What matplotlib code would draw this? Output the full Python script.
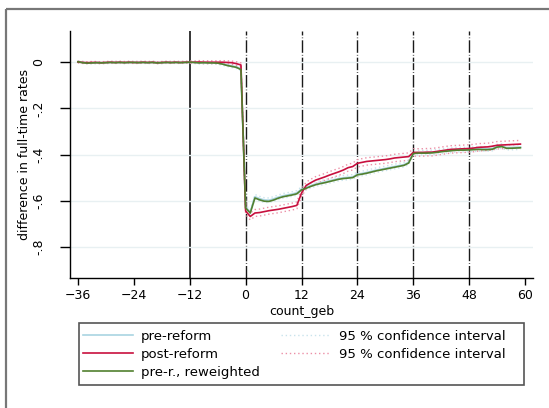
"""
Event-study plot: difference in full-time rates around birth (count_geb)
pre-reform vs post-reform vs reweighted pre-reform cohort, Stata-like look
"""

import matplotlib
matplotlib.use("Agg")
import matplotlib.pyplot as plt
from matplotlib.lines import Line2D
from matplotlib.patches import Rectangle
import numpy as np

# Months relative to birth
months = np.arange(-36, 60)

# pre-reform (light blue)
pre_reform = [
    0.002, -0.001, -0.003, -0.003, -0.002, -0.002, -0.002, -0.001, -0.001, -0.001, -0.002, -0.001,
    -0.001, -0.001, -0.001, -0.002, -0.001, -0.002, -0.002, -0.001, -0.001, -0.001, -0.001, -0.001,
    0.000, -0.001, -0.002, -0.002, -0.002, -0.003, -0.003, -0.007, -0.012, -0.016, -0.020, -0.029,
    -0.626, -0.648, -0.582, -0.590, -0.596, -0.597, -0.591, -0.584, -0.578, -0.574, -0.570, -0.565,
    -0.549, -0.542, -0.534, -0.527, -0.522, -0.518, -0.513, -0.508, -0.503, -0.500, -0.498, -0.496,
    -0.484, -0.481, -0.477, -0.472, -0.467, -0.463, -0.459, -0.455, -0.451, -0.447, -0.443, -0.433,
    -0.393, -0.391, -0.391, -0.391, -0.390, -0.388, -0.385, -0.383, -0.381, -0.379, -0.378, -0.378,
    -0.377, -0.376, -0.375, -0.375, -0.375, -0.373, -0.365, -0.363, -0.369, -0.369, -0.368, -0.367,
]

# post-reform (crimson)
post_reform = [
    0.001, -0.001, -0.002, -0.001, -0.001, -0.002, -0.001, 0.000, -0.001, 0.000, -0.001, 0.000,
    -0.001, -0.001, 0.000, -0.001, 0.000, -0.002, -0.001, 0.000, -0.001, 0.000, -0.001, 0.000,
    0.000, 0.000, 0.001, 0.000, 0.000, 0.000, 0.000, 0.000, -0.001, -0.002, -0.006, -0.012,
    -0.643, -0.667, -0.652, -0.650, -0.646, -0.642, -0.639, -0.636, -0.632, -0.628, -0.624, -0.619,
    -0.566, -0.533, -0.521, -0.510, -0.503, -0.496, -0.488, -0.481, -0.474, -0.466, -0.456, -0.451,
    -0.437, -0.433, -0.429, -0.427, -0.425, -0.423, -0.421, -0.418, -0.414, -0.412, -0.410, -0.408,
    -0.390, -0.390, -0.390, -0.389, -0.389, -0.386, -0.383, -0.380, -0.377, -0.376, -0.375, -0.374,
    -0.373, -0.371, -0.368, -0.367, -0.366, -0.363, -0.359, -0.358, -0.357, -0.356, -0.355, -0.354,
]

# pre-reform, reweighted (green)
pre_reweighted = [
    0.002, -0.002, -0.004, -0.003, -0.002, -0.003, -0.002, -0.001, -0.002, -0.001, -0.002, -0.001,
    -0.001, -0.002, -0.001, -0.002, -0.001, -0.003, -0.002, -0.001, -0.002, -0.001, -0.002, -0.001,
    0.000, -0.001, -0.003, -0.002, -0.003, -0.003, -0.004, -0.008, -0.014, -0.018, -0.022, -0.032,
    -0.630, -0.652, -0.587, -0.595, -0.601, -0.602, -0.596, -0.588, -0.582, -0.578, -0.574, -0.569,
    -0.552, -0.545, -0.537, -0.530, -0.525, -0.521, -0.516, -0.511, -0.506, -0.503, -0.501, -0.499,
    -0.487, -0.484, -0.480, -0.475, -0.470, -0.466, -0.462, -0.458, -0.454, -0.450, -0.446, -0.436,
    -0.395, -0.393, -0.393, -0.393, -0.392, -0.390, -0.387, -0.385, -0.383, -0.381, -0.380, -0.380,
    -0.379, -0.378, -0.377, -0.378, -0.378, -0.376, -0.367, -0.365, -0.372, -0.372, -0.371, -0.370,
]

# 95 % CI half-widths
ci_pre = [
    0.004, 0.004, 0.004, 0.004, 0.004, 0.004, 0.004, 0.004, 0.004, 0.004, 0.004, 0.004,
    0.004, 0.004, 0.004, 0.004, 0.004, 0.004, 0.004, 0.004, 0.004, 0.004, 0.004, 0.004,
    0.004, 0.004, 0.005, 0.005, 0.005, 0.005, 0.006, 0.006, 0.006, 0.007, 0.007, 0.008,
    0.010, 0.010, 0.010, 0.010, 0.010, 0.010, 0.010, 0.010, 0.010, 0.010, 0.010, 0.010,
    0.010, 0.010, 0.010, 0.010, 0.010, 0.010, 0.010, 0.010, 0.010, 0.010, 0.010, 0.010,
    0.010, 0.010, 0.010, 0.010, 0.010, 0.010, 0.010, 0.010, 0.010, 0.010, 0.010, 0.010,
    0.010, 0.010, 0.010, 0.010, 0.010, 0.010, 0.010, 0.010, 0.010, 0.010, 0.010, 0.010,
    0.010, 0.010, 0.010, 0.010, 0.010, 0.010, 0.010, 0.010, 0.010, 0.010, 0.010, 0.010,
]
ci_post = [
    0.004, 0.004, 0.004, 0.004, 0.004, 0.004, 0.004, 0.004, 0.004, 0.004, 0.004, 0.004,
    0.004, 0.004, 0.004, 0.004, 0.004, 0.004, 0.004, 0.004, 0.004, 0.004, 0.004, 0.004,
    0.005, 0.005, 0.006, 0.006, 0.006, 0.006, 0.006, 0.007, 0.007, 0.007, 0.008, 0.009,
    0.015, 0.015, 0.015, 0.015, 0.015, 0.015, 0.015, 0.015, 0.015, 0.015, 0.015, 0.015,
    0.015, 0.015, 0.015, 0.015, 0.015, 0.015, 0.015, 0.015, 0.015, 0.015, 0.015, 0.015,
    0.016, 0.016, 0.016, 0.016, 0.016, 0.016, 0.016, 0.016, 0.016, 0.016, 0.016, 0.016,
    0.016, 0.016, 0.016, 0.016, 0.016, 0.016, 0.016, 0.016, 0.016, 0.016, 0.016, 0.016,
    0.016, 0.016, 0.016, 0.016, 0.016, 0.016, 0.016, 0.016, 0.016, 0.016, 0.016, 0.016,
]

x_ticks = [-36, -24, -12, 0, 12, 24, 36, 48, 60]
y_ticks = [0, -0.2, -0.4, -0.6, -0.8]
y_tick_labels = ["0", "-.2", "-.4", "-.6", "-.8"]
dashed_at = [0, 12, 24, 36, 48]

c_blue = "#a9d4e2"
c_red = "#c8103e"
c_green = "#52802f"
c_blue_ci = "#c9e3ec"
c_red_ci = "#ec8fa6"

W, H = 549, 408
plt.rcParams["font.family"] = "DejaVu Sans"
fig = plt.figure(figsize=(W / 100, H / 100), dpi=100)
ax = fig.add_axes([70 / W, 1 - 278 / H, (533 - 70) / W, (278 - 31) / H])

pre = np.array(pre_reform)
post = np.array(post_reform)
cp = np.array(ci_pre)
cq = np.array(ci_post)

# confidence bands
dots = (0, (1, 2))
ax.plot(months, pre + cp, color=c_blue_ci, lw=1.0, ls=dots)
ax.plot(months, pre - cp, color=c_blue_ci, lw=1.0, ls=dots)
ax.plot(months, post + cq, color=c_red_ci, lw=1.0, ls=dots)
ax.plot(months, post - cq, color=c_red_ci, lw=1.0, ls=dots)

ax.plot(months, pre, color=c_blue, lw=1.3)
ax.plot(months, post, color=c_red, lw=1.2)
ax.plot(months, pre_reweighted, color=c_green, lw=1.2)

# reference lines
ax.axvline(-12, color="black", lw=1.1, zorder=0.5)
for m in dashed_at:
    ax.axvline(m, color="#1a1a1a", lw=1.0, ls=(0, (9, 1.5, 0.5, 1.5)), zorder=0.5)

ax.set_xlim(-37.7, 61.7)
ax.set_ylim(-0.933, 0.135)
ax.set_xticks(x_ticks)
ax.set_yticks(y_ticks)
ax.set_yticklabels(y_tick_labels, rotation=90, va="center")
ax.tick_params(axis="x", direction="out", length=5, width=1, labelsize=9, pad=3)
ax.tick_params(axis="y", direction="out", length=7, width=1, labelsize=9, pad=11)
ax.grid(axis="y", color="#e8f0f2", lw=1.0)
ax.set_axisbelow(True)
for s in ["top", "right"]:
    ax.spines[s].set_visible(False)
ax.spines["left"].set_linewidth(1.0)
ax.spines["bottom"].set_linewidth(1.0)

ax.set_xlabel("count_geb", fontsize=9, labelpad=2)
ax.set_ylabel("difference in full-time rates", fontsize=9, labelpad=1)

# legend (frame drawn separately)
handles = [
    Line2D([], [], color=c_blue, lw=1.2),
    Line2D([], [], color=c_red, lw=1.2),
    Line2D([], [], color=c_green, lw=1.2),
    Line2D([], [], color=c_blue_ci, lw=1.0, ls=dots),
    Line2D([], [], color=c_red_ci, lw=1.0, ls=dots),
]
labels = ["pre-reform", "post-reform", "pre-r., reweighted",
          "95 % confidence interval", "95 % confidence interval"]
leg = fig.legend(handles, labels, ncol=2, fontsize=9.5,
                 bbox_to_anchor=(83 / W, 1 - 330 / H), loc="upper left",
                 borderaxespad=0, borderpad=0, handlelength=3.8,
                 handletextpad=0.6, labelspacing=0.38, columnspacing=1.6,
                 frameon=False)
fig.patches.append(Rectangle((79 / W, 1 - 385 / H), (524 - 79) / W, (385 - 323) / H,
                             transform=fig.transFigure, fill=False,
                             edgecolor="#555555", lw=1.2))

# outer frame (cropped on the right and bottom)
frame_kw = dict(transform=fig.transFigure, color="#777777", lw=1.6,
                solid_capstyle="butt")
fig.lines.append(Line2D([6 / W, 1.0], [1 - 9 / H, 1 - 9 / H], **frame_kw))
fig.lines.append(Line2D([6 / W, 6 / W], [0.0, 1 - 9 / H], **frame_kw))

fig.savefig("out.png", dpi=100)
